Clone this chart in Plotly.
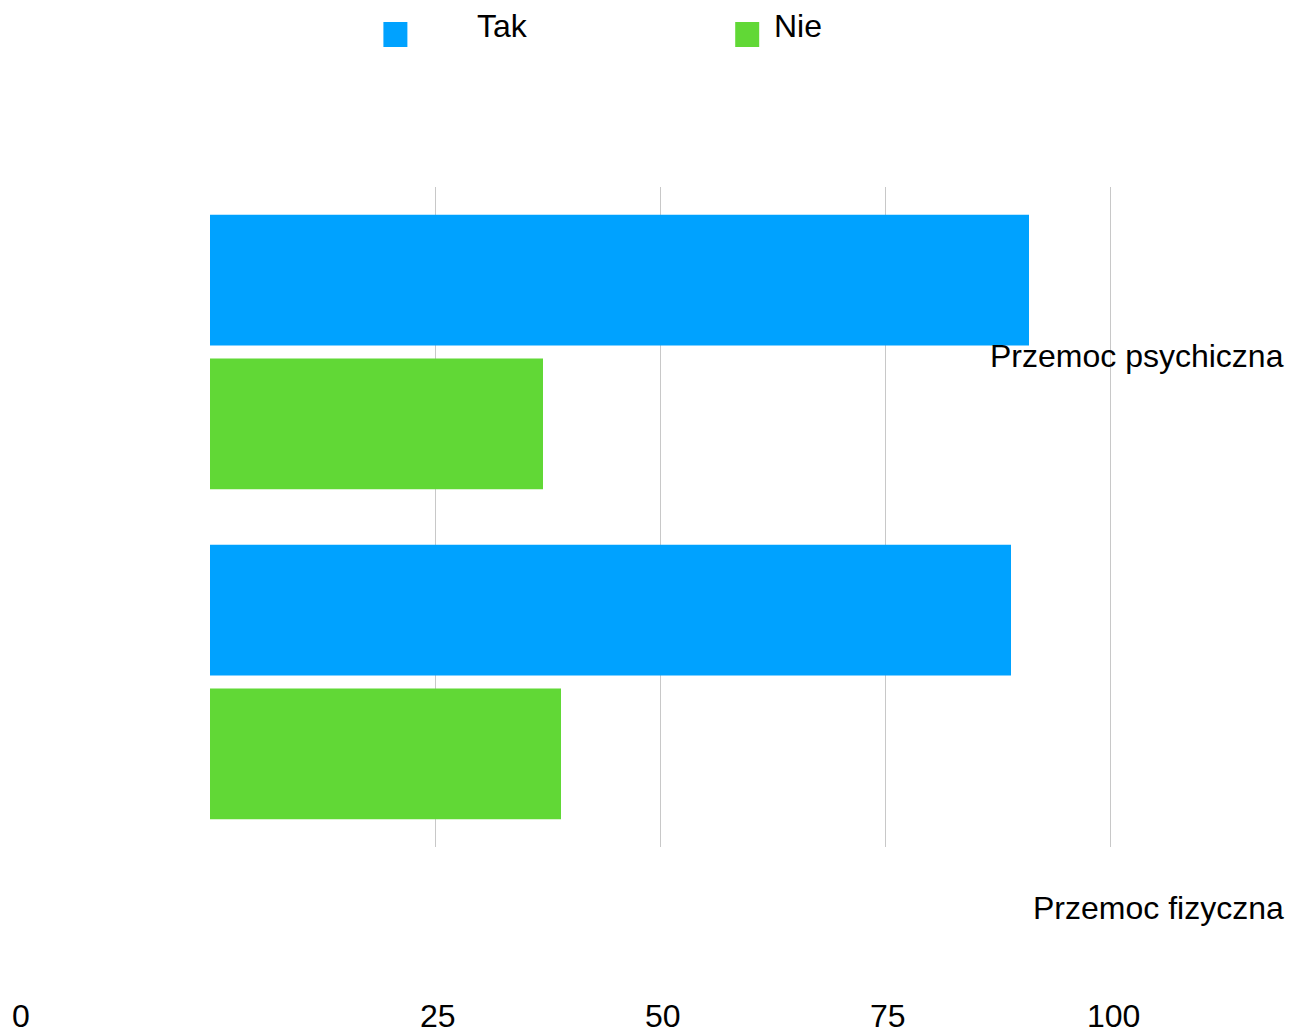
import plotly.graph_objects as go

categories = ["Przemoc psychiczna", "Przemoc fizyczna"]
series_names = ["Tak", "Nie"]
tak_values = [91, 89]
nie_values = [37, 39]
tick_vals = [0, 25, 50, 75, 100]
tick_text = ["0", "25", "50", "75", "100"]

BLUE = "#00A2FF"
GREEN = "#61D836"
FONT = "Liberation Sans, Arial, sans-serif"
FS = 32

W, H = 1292, 1034
XMAX = 101
L, T, B = 209.5, 187, 847
R = 1110 + (XMAX - 100) * (1110 - 209.5) / 100

def px(x):
    return (x - L) / (R - L)

def py(y):
    return 1 - (y - T) / (B - T)

fig = go.Figure()
fig.add_trace(go.Bar(y=categories, x=tak_values, name=series_names[0], orientation="h",
                     marker=dict(color=BLUE, line=dict(width=0)), showlegend=False))
fig.add_trace(go.Bar(y=categories, x=nie_values, name=series_names[1], orientation="h",
                     marker=dict(color=GREEN, line=dict(width=0)), showlegend=False))

annotations = []
# x tick labels (placed as in the reference, along the bottom of the image)
tick_px = {0: 20}
for v, t in zip(tick_vals, tick_text):
    if v in tick_px:
        annotations.append(dict(x=px(tick_px[v]), xref="paper", y=py(1016), yref="paper",
                                text=t, showarrow=False, xanchor="center", yanchor="middle",
                                font=dict(size=FS, color="black", family=FONT)))
    else:
        annotations.append(dict(x=v, xref="x", y=py(1016), yref="paper", xshift=3,
                                text=t, showarrow=False, xanchor="center", yanchor="middle",
                                font=dict(size=FS, color="black", family=FONT)))
# category labels
cat_y = [356, 908]
for c, yy in zip(categories, cat_y):
    annotations.append(dict(x=px(1286), xref="paper", y=py(yy), yref="paper", text=c,
                            showarrow=False, xanchor="right", yanchor="middle",
                            font=dict(size=FS, color="black", family=FONT)))
# legend
leg = [(series_names[0], BLUE, 383, 476), (series_names[1], GREEN, 735, 773)]
shapes = []
for name, col, sx, tx in leg:
    shapes.append(dict(type="rect", xref="paper", yref="paper", x0=px(sx), x1=px(sx + 24),
                       y0=py(47), y1=py(22), fillcolor=col, line=dict(width=0)))
    annotations.append(dict(x=px(tx - 1), xref="paper", y=py(26), yref="paper", text=name,
                            showarrow=False, xanchor="left", yanchor="middle",
                            font=dict(size=FS, color="black", family=FONT)))

fig.update_layout(
    width=W, height=H,
    margin=dict(l=L, r=W - R, t=T, b=H - B, pad=0),
    paper_bgcolor="white", plot_bgcolor="white",
    barmode="group", bargap=0.129, bargroupgap=0.09,
    font=dict(family=FONT, size=FS, color="black"),
    xaxis=dict(range=[0, XMAX], tickvals=tick_vals[1:], showticklabels=False,
               showgrid=True, gridcolor="#C8C8C8", gridwidth=1, zeroline=False,
               showline=False, ticks=""),
    yaxis=dict(autorange="reversed", showticklabels=False, showgrid=False,
               zeroline=False, showline=False, ticks=""),
    annotations=annotations, shapes=shapes,
)

fig.write_html("out.html", config={"displayModeBar": False},
               post_script="document.body.style.margin='0';document.body.style.overflow='hidden';")
